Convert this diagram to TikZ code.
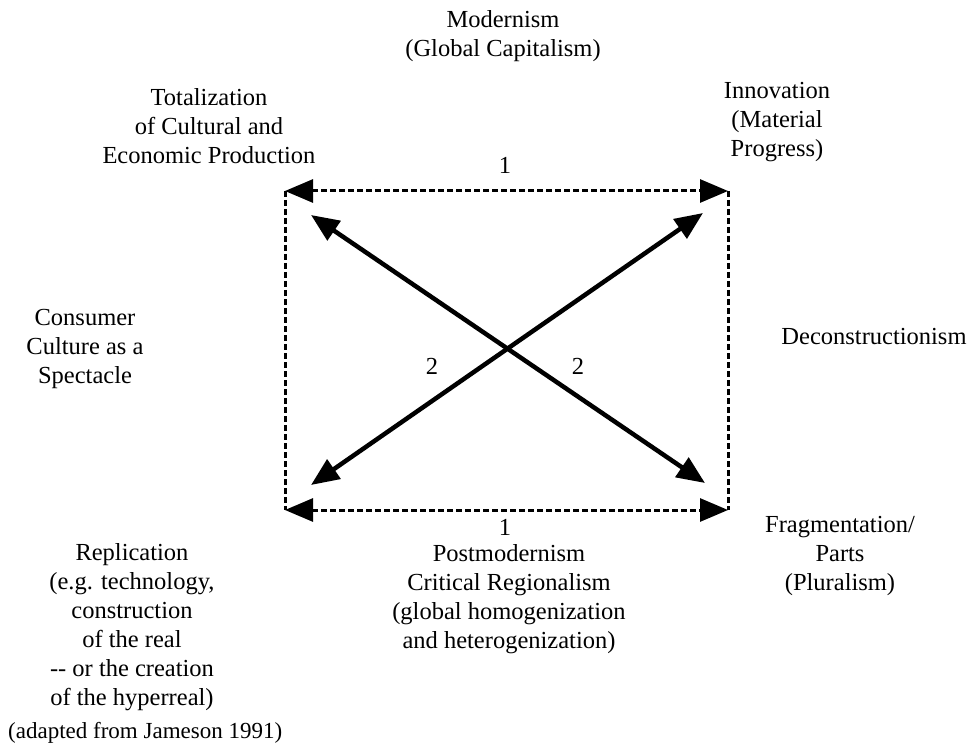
\documentclass[tikz,border=0pt]{standalone}
\usepackage{fontspec}
\setmainfont{Liberation Serif}
\usetikzlibrary{arrows.meta}
\begin{document}
\begin{tikzpicture}[x=1pt,y=-1pt,
  lbl/.style={inner sep=0pt, align=center, font=\fontsize{24.5}{29}\selectfont},
  note/.style={inner sep=0pt, font=\fontsize{23}{28}\selectfont},
  bigtip/.tip={Triangle[length=28pt,width=23pt]},
  frame/.style={line width=3pt, dash pattern=on 6pt off 3pt},
  cross/.style={line width=4.5pt, bigtip-bigtip}]
\useasboundingbox (0,0) rectangle (975,746);
% corners of the dashed square
\coordinate (TL) at (285,191);
\coordinate (TR) at (728,191);
\coordinate (BL) at (285,510);
\coordinate (BR) at (728,510);
% ends of the crossing arrows
\coordinate (UL) at (311,215);
\coordinate (LR) at (705,483);
\coordinate (LL) at (311,485);
\coordinate (UR) at (703,213);
% dashed frame, arrowed along top and bottom
\draw[frame, bigtip-bigtip] (TL) -- (TR);
\draw[frame, bigtip-bigtip] (BL) -- (BR);
\draw[frame] (TL) -- (BL);
\draw[frame] (TR) -- (BR);
% crossing arrows
\draw[cross] (UL) -- (LR);
\draw[cross] (LL) -- (UR);
% labels
\node[lbl] (modern) at (503,36) {Modernism\\(Global Capitalism)};
\node[lbl] (total) at (209,126) {Totalization\\of Cultural and\\Economic Production};
\node[lbl] (innov) at (777,122) {Innovation\\(Material\\Progress)};
\node[lbl] (consumer) at (85,349) {Consumer\\Culture as a\\Spectacle};
\node[lbl] (decon) at (874,337) {Deconstructionism};
\node[lbl] (repl) at (132,627) {Replication\\(e.g. technology,\\construction\\of the real\\-{}- or the creation\\of the hyperreal)};
\node[note, anchor=west] (source) at (8,733) {(adapted from Jameson 1991)};
\node[lbl] (postmod) at (509,599) {Postmodernism\\Critical Regionalism\\(global homogenization\\and heterogenization)};
\node[lbl] (frag) at (840,556) {Fragmentation/\\Parts\\(Pluralism)};
\node[lbl] (oneT) at (505,165) {1};
\node[lbl] (oneB) at (505,527) {1};
\node[lbl] (twoL) at (432,366) {2};
\node[lbl] (twoR) at (578,366) {2};
\end{tikzpicture}
\end{document}
